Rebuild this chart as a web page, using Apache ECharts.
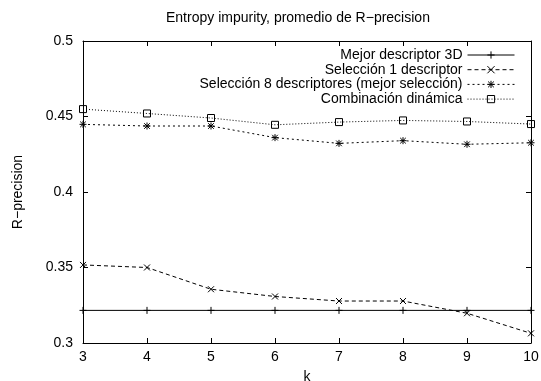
<!DOCTYPE html>
<html>
<head>
<meta charset="utf-8">
<script src="https://cdn.jsdelivr.net/npm/echarts@6/dist/echarts.min.js"></script>
<style>
  html, body { margin: 0; padding: 0; background: #fff; }
  #chart { width: 541px; height: 381px; }
</style>
</head>
<body>
<div id="chart"></div>
<script>
const ks = [3, 4, 5, 6, 7, 8, 9, 10];
const mejor3D = [0.3216, 0.3216, 0.3216, 0.3216, 0.3216, 0.3216, 0.3216, 0.3216];
const seleccion1 = [0.3517, 0.350, 0.3356, 0.3308, 0.3278, 0.3278, 0.3197, 0.3064];
const seleccion8 = [0.4448, 0.4437, 0.4437, 0.436, 0.4322, 0.434, 0.4316, 0.4326];
const combinacion = [0.4549, 0.452, 0.449, 0.4445, 0.4463, 0.4474, 0.4467, 0.445];
const seriesNames = [
  'Mejor descriptor 3D',
  'Selección 1 descriptor',
  'Selección 8 descriptores (mejor selección)',
  'Combinación dinámica'
];

const FONT = 'Liberation Sans';
const symPlus = 'path://M5,0L5,10M0,5L10,5';
const symCross = 'path://M0,0L10,10M10,0L0,10';
const symStar = 'path://M5,0L5,10M0,5L10,5M1,1L9,9M9,1L1,9';
const symSquare = 'path://M0,0L10,0L10,10L0,10Z';

const pairs = (vals) => ks.map((k, i) => [k, vals[i]]);

function lineSeries(name, vals, symbol, size, dash) {
  return {
    name: name,
    type: 'line',
    data: pairs(vals),
    symbol: symbol,
    symbolSize: size,
    showAllSymbol: true,
    xAxisIndex: 0,
    yAxisIndex: 0,
    lineStyle: { color: '#000', width: 1, type: dash },
    itemStyle: { color: 'rgba(0,0,0,0)', borderColor: '#000', borderWidth: 1 },
    emphasis: { disabled: true },
    animation: false
  };
}

const chart = echarts.init(document.getElementById('chart'));

const axisCommon = {
  axisLine: { show: true, onZero: false, lineStyle: { color: '#000', width: 1 } },
  axisTick: { show: true, inside: true, length: 5, lineStyle: { color: '#000' } },
  splitLine: { show: false }
};

chart.setOption({
  backgroundColor: '#fff',
  textStyle: { fontFamily: FONT },
  title: {
    text: 'Entropy impurity, promedio de R\u2212precision',
    left: 166,
    top: 11,
    padding: 0,
    textStyle: { fontFamily: FONT, fontSize: 14, fontWeight: 'normal', color: '#000' }
  },
  legend: {
    orient: 'vertical',
    align: 'right',
    right: 26,
    top: 48,
    padding: 0,
    itemWidth: 47,
    itemHeight: 9,
    itemGap: 0.7,
    lineStyle: { width: 1 },
    itemStyle: { borderWidth: 1 },
    textStyle: { fontFamily: FONT, fontSize: 14, lineHeight: 14, color: '#000' },
    selectedMode: false,
    data: seriesNames
  },
  grid: { left: 83, right: 10, top: 41, bottom: 38, outerBoundsMode: 'none' },
  xAxis: [
    Object.assign({
      type: 'value', min: 3, max: 10, interval: 1, position: 'bottom',
      name: 'k', nameLocation: 'middle', nameGap: 27,
      nameTextStyle: { fontFamily: FONT, fontSize: 14, color: '#000' },
      axisLabel: { fontFamily: FONT, fontSize: 14, color: '#000', margin: 7 }
    }, axisCommon),
    Object.assign({
      type: 'value', min: 3, max: 10, interval: 1, position: 'top',
      axisLabel: { show: false }
    }, axisCommon)
  ],
  yAxis: [
    Object.assign({
      type: 'value', min: 0.3, max: 0.5, interval: 0.05, position: 'left',
      name: 'R\u2212precision', nameLocation: 'middle', nameGap: 58,
      nameTextStyle: { fontFamily: FONT, fontSize: 14, color: '#000' },
      axisLabel: { fontFamily: FONT, fontSize: 14, color: '#000', margin: 10 }
    }, axisCommon),
    Object.assign({
      type: 'value', min: 0.3, max: 0.5, interval: 0.05, position: 'right',
      axisLabel: { show: false }
    }, axisCommon)
  ],
  series: [
    lineSeries(seriesNames[0], mejor3D, symPlus, 7, 'solid'),
    lineSeries(seriesNames[1], seleccion1, symCross, 6, [4, 3]),
    lineSeries(seriesNames[2], seleccion8, symStar, 7, [2, 3]),
    lineSeries(seriesNames[3], combinacion, symSquare, 7, [1, 2])
  ]
});
</script>
</body>
</html>
